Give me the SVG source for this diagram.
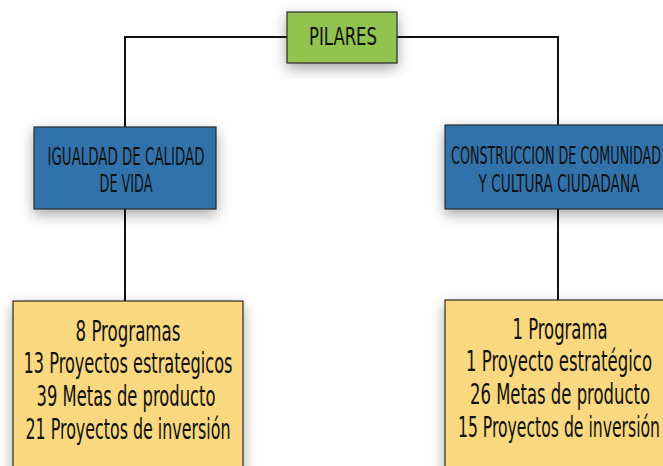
<svg xmlns="http://www.w3.org/2000/svg" width="663" height="466" viewBox="0 0 663 466">
<style>
.box{stroke:#2b2b2b;stroke-width:1.2}
.green{fill:#92c24f}
.blue{fill:#3372ab}
.yellow{fill:#f9d880}
text{font-family:"Liberation Sans Narrow","DejaVu Sans Condensed","Liberation Sans",sans-serif;fill:#111;text-anchor:middle}
.t{font-size:25px}
.y{font-size:28px}
.c{stroke:#111;stroke-width:2;fill:none}
</style>
<defs>
<filter id="sh" x="-20%" y="-30%" width="140%" height="160%">
<feDropShadow dx="0" dy="5" stdDeviation="7" flood-color="#000" flood-opacity="0.35"/>
</filter>
</defs>
<g id="connectors">
<path class="c" d="M287 37 H125 V127"/>
<path class="c" d="M397 37 H558 V125"/>
<path class="c" d="M125 209 V301"/>
<path class="c" d="M558 209 V300"/>
</g>
<g id="pilares">
<rect class="box green" x="287" y="12" width="110" height="51" filter="url(#sh)"/>
<text class="t" x="343" y="45" textLength="68" lengthAdjust="spacingAndGlyphs">PILARES</text>
</g>
<g id="igualdad">
<rect class="box blue" x="34" y="127" width="182" height="82" filter="url(#sh)"/>
<text class="t" x="126" y="165" textLength="157" lengthAdjust="spacingAndGlyphs">IGUALDAD DE CALIDAD</text>
<text class="t" x="126" y="192" textLength="53" lengthAdjust="spacingAndGlyphs">DE VIDA</text>
</g>
<g id="construccion">
<rect class="box blue" x="445" y="125" width="230" height="84" filter="url(#sh)"/>
<text class="t" x="556" y="164" textLength="210" lengthAdjust="spacingAndGlyphs">CONSTRUCCION DE COMUNIDAD</text>
<text class="t" x="559" y="192" textLength="161" lengthAdjust="spacingAndGlyphs">Y CULTURA CIUDADANA</text>
</g>
<g id="detalle-igualdad">
<rect class="box yellow" x="13" y="301" width="230" height="180" filter="url(#sh)"/>
<text class="y" x="128" y="341" textLength="105" lengthAdjust="spacingAndGlyphs">8 Programas</text>
<text class="y" x="128" y="373" textLength="209" lengthAdjust="spacingAndGlyphs">13 Proyectos estrategicos</text>
<text class="y" x="126" y="406" textLength="179" lengthAdjust="spacingAndGlyphs">39 Metas de producto</text>
<text class="y" x="128" y="439" textLength="205" lengthAdjust="spacingAndGlyphs">21 Proyectos de inversión</text>
</g>
<g id="detalle-construccion">
<rect class="box yellow" x="445" y="300" width="230" height="180" filter="url(#sh)"/>
<text class="y" x="560" y="339" textLength="95" lengthAdjust="spacingAndGlyphs">1 Programa</text>
<text class="y" x="559" y="371" textLength="186" lengthAdjust="spacingAndGlyphs">1 Proyecto estratégico</text>
<text class="y" x="560" y="404" textLength="180" lengthAdjust="spacingAndGlyphs">26 Metas de producto</text>
<text class="y" x="559" y="437" textLength="202" lengthAdjust="spacingAndGlyphs">15 Proyectos de inversión</text>
</g>
</svg>
